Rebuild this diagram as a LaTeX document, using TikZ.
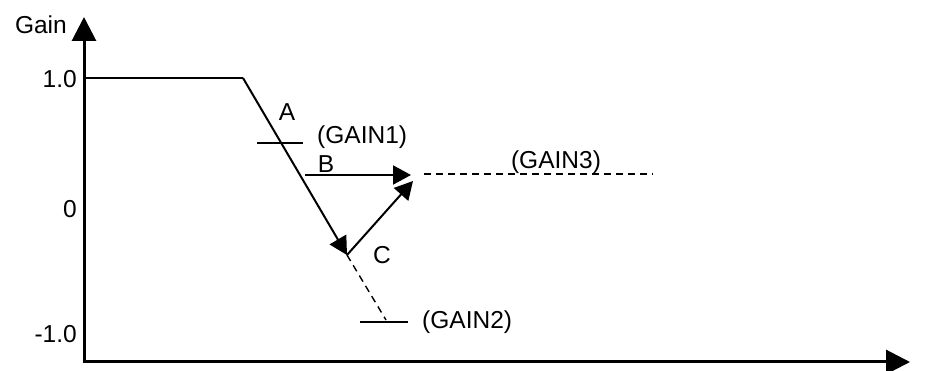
\documentclass[tikz,border=0pt]{standalone}
\usepackage{fontspec}
\setmainfont{Liberation Sans}
\usetikzlibrary{arrows.meta}
\begin{document}
\begin{tikzpicture}[x=1pt,y=-1pt,
  lbl/.style={inner sep=0pt,font=\fontsize{24.5}{28}\selectfont},
  axis/.style={line width=3pt,-{Triangle[length=24pt,width=24pt]}},
  curve/.style={line width=2pt},
  thinline/.style={line width=1.4pt},
  dashline/.style={line width=1.4pt,dash pattern=on 7pt off 5pt},
  arr/.style={line width=2pt,-{Triangle[length=18pt,width=19pt]}}]
\useasboundingbox (0,0) rectangle (927,371);
\coordinate (O) at (84,362);
\coordinate (ytip) at (84,17);
\coordinate (xtip) at (910,362);
\coordinate (p1) at (84,78);
\coordinate (p2) at (243,78);
\coordinate (p3) at (347,255);
\coordinate (p4) at (386,320);
\coordinate (t1a) at (257,143);
\coordinate (t1b) at (303,143);
\coordinate (t2a) at (360,322);
\coordinate (t2b) at (408,322);
\coordinate (bs) at (305,175);
\coordinate (bt) at (411,175);
\coordinate (ct) at (413,181);
\coordinate (g3a) at (424,174);
\coordinate (g3b) at (653,174);
\draw[axis] (O) -- (ytip);
\draw[axis] ([xshift=-1.5pt]O) -- (xtip);
\draw[curve] (p1) -- (p2);
\draw[arr] (p2) -- (p3);
\draw[dashline] (p3) -- (p4);
\draw[thinline] (t1a) -- (t1b);
\draw[thinline] (t2a) -- (t2b);
\draw[arr] (bs) -- (bt);
\draw[arr] (p3) -- (ct);
\draw[dashline] (g3a) -- (g3b);
\node[lbl,anchor=east] (gain) at (67,25) {Gain};
\node[lbl,anchor=east] (one) at (77,79) {1.0};
\node[lbl,anchor=east] (zero) at (77,209) {0};
\node[lbl,anchor=east] (mone) at (77,334) {-1.0};
\node[lbl] (A) at (287,112) {A};
\node[lbl] (B) at (326,164) {B};
\node[lbl] (C) at (382,255) {C};
\node[lbl,anchor=west] (g1) at (317,137) {(GAIN1)};
\node[lbl,anchor=west] (g2) at (422,322) {(GAIN2)};
\node[lbl] (g3) at (556,162) {(GAIN3)};
\end{tikzpicture}
\end{document}
